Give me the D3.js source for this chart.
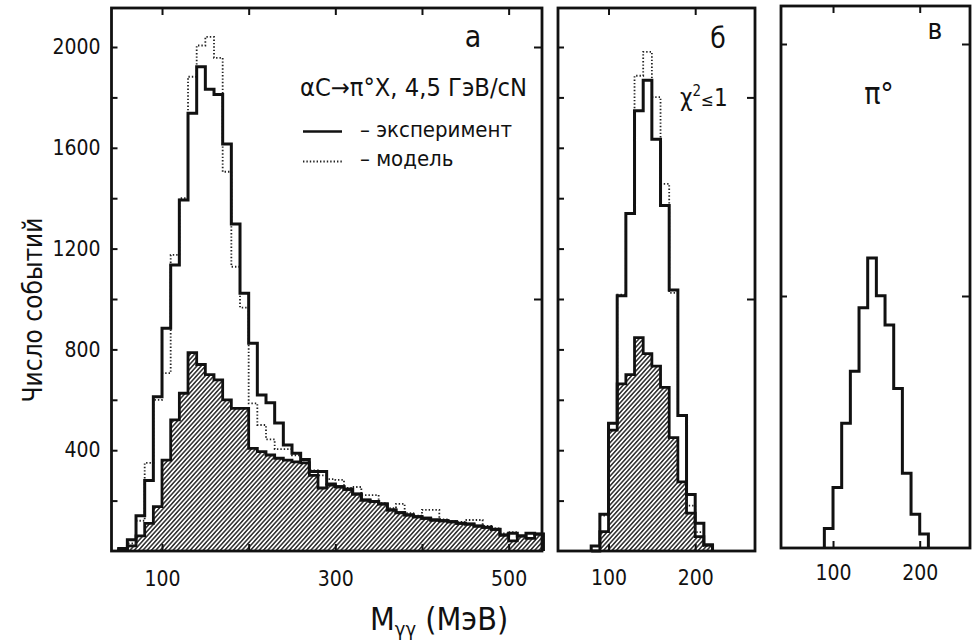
<!DOCTYPE html>
<html>
<head>
<meta charset="utf-8">
<script src="https://cdn.jsdelivr.net/npm/d3@7"></script>
<style>
  body { margin: 0; background: #fff; }
  svg { display: block; }
  text { font-family: "DejaVu Sans Condensed", "Liberation Sans Narrow", "DejaVu Sans", sans-serif; fill: #111; }
</style>
</head>
<body>
<svg id="chart" width="975" height="643"></svg>
<script>
// bins are 10 MeV wide, each array starts at its own left edge
const binWidth = 10;

// panel а: all events
const aStart = 50;
const aExperiment = [10, 45, 140, 280, 612, 884, 1135, 1393, 1737, 1922, 1832, 1812, 1615, 1298, 1023, 824,
  619, 588, 508, 421, 388, 363, 315, 315, 266, 255, 245, 226, 202, 196, 187, 163, 152, 143, 136, 130,
  123, 120, 116, 110, 107, 99, 94, 86, 63, 70, 60, 70, 67];
const aModel = [5, 30, 120, 350, 600, 706, 1175, 1400, 1882, 2006, 2040, 1957, 1505, 1128, 966, 586,
  500, 443, 404, 404, 380, 360, 320, 300, 285, 282, 250, 254, 222, 222, 190, 170, 187, 150, 140, 163,
  163, 125, 118, 115, 123, 123, 100, 90, 70, 75, 60, 72, 67];
const aHatched = [5, 20, 60, 110, 176, 361, 520, 626, 787, 740, 700, 679, 600, 566, 566, 407,
  394, 381, 368, 361, 354, 350, 300, 250, 262, 255, 245, 226, 202, 196, 187, 163, 152, 143, 136, 130,
  123, 120, 116, 110, 107, 99, 94, 86, 63, 40, 60, 50, 67];

// panel б: chi^2 <= 1
const bStart = 80;
const bExperiment = [20, 146, 507, 1013, 1339, 1747, 1868, 1634, 1371, 1036, 538, 224, 110, 24];
const bModel = [20, 140, 507, 1017, 1339, 1886, 1981, 1801, 1457, 1024, 538, 180, 75, 20];
const bHatched = [0, 77, 480, 663, 700, 847, 783, 734, 649, 450, 274, 150, 57, 24];

// panel в: pi0
const cStart = 90;
const cExperiment = [77, 240, 495, 701, 953, 1151, 1001, 885, 633, 297, 134, 56];

const yMinorTicks = [200, 400, 600, 800, 1000, 1200, 1400, 1600, 1800, 2000];
const yLabelTicks = [400, 800, 1200, 1600, 2000];
const aXTicks = [100, 200, 300, 400, 500];
const aXLabels = [100, 300, 500];
const bcXTicks = [100, 200];

const svg = d3.select("#chart");
const defs = svg.append("defs");

defs.append("pattern")
    .attr("id", "hatch")
    .attr("patternUnits", "userSpaceOnUse")
    .attr("width", 3.2)
    .attr("height", 3.2)
    .attr("patternTransform", "rotate(42)")
  .append("line")
    .attr("x1", 0.8).attr("y1", 0)
    .attr("x2", 0.8).attr("y2", 3.2)
    .attr("stroke", "#111")
    .attr("stroke-width", 1.35);

const panels = [
  {key: "a", left: 111.5, right: 542, top: 8, bottom: 551, xDomain: [41.7, 538.5],
   rightTicks: [1000, 2000], leftTicks: yMinorTicks, xTicks: aXTicks, xLabels: aXLabels, labelPad: 20},
  {key: "b", left: 558, right: 755, top: 8, bottom: 551, xDomain: [41.7, 269],
   rightTicks: [1000, 1800], leftTicks: yMinorTicks, xTicks: bcXTicks, xLabels: bcXTicks, labelPad: 19},
  {key: "c", left: 781, right: 970, top: 6, bottom: 548, xDomain: [40, 258],
   rightTicks: [1000, 2000], leftTicks: [1000, 2000], xTicks: bcXTicks, xLabels: bcXTicks, labelPad: 17}
];

panels.forEach(p => {
  p.x = d3.scaleLinear().domain(p.xDomain).range([p.left, p.right]);
  p.y = d3.scaleLinear().domain([0, (p.bottom - p.top) / 0.252]).range([p.bottom, p.top]);
});

function stepPath(p, start, values, closed) {
  const path = d3.path();
  path.moveTo(p.x(start), p.y(0));
  values.forEach((v, i) => {
    const e = start + i * binWidth;
    path.lineTo(p.x(e), p.y(v));
    path.lineTo(p.x(e + binWidth), p.y(v));
  });
  path.lineTo(p.x(start + values.length * binWidth), p.y(0));
  if (closed) path.closePath();
  return path.toString();
}

function drawHist(p, start, values, style) {
  const g = svg.append("g");
  if (style === "hatched") {
    g.append("path").attr("d", stepPath(p, start, values, true))
      .attr("fill", "url(#hatch)").attr("stroke", "none");
    g.append("path").attr("d", stepPath(p, start, values, false))
      .attr("fill", "none").attr("stroke", "#111").attr("stroke-width", 2.8)
      .attr("stroke-linejoin", "miter");
  } else if (style === "dotted") {
    g.append("path").attr("d", stepPath(p, start, values, false))
      .attr("fill", "none").attr("stroke", "#222").attr("stroke-width", 1.8)
      .attr("stroke-dasharray", "1.4,2");
  } else {
    g.append("path").attr("d", stepPath(p, start, values, false))
      .attr("fill", "none").attr("stroke", "#111").attr("stroke-width", 3)
      .attr("stroke-linejoin", "miter");
  }
}

const [pa, pb, pc] = panels;

drawHist(pa, aStart, aHatched, "hatched");
drawHist(pa, aStart, aModel, "dotted");
drawHist(pa, aStart, aExperiment, "solid");

drawHist(pb, bStart, bHatched, "hatched");
drawHist(pb, bStart, bModel, "dotted");
drawHist(pb, bStart, bExperiment, "solid");

drawHist(pc, cStart, cExperiment, "solid");

// frames and inward ticks
panels.forEach(p => {
  svg.append("rect")
    .attr("x", p.left).attr("y", p.top)
    .attr("width", p.right - p.left).attr("height", p.bottom - p.top)
    .attr("fill", "none").attr("stroke", "#111").attr("stroke-width", 2.8);

  const left = svg.append("g").attr("transform", `translate(${p.left},0)`)
    .call(d3.axisLeft(p.y).tickValues(p.leftTicks).tickSize(-6).tickPadding(11)
      .tickFormat(d => (p.key === "a" && yLabelTicks.includes(d)) ? d : ""));
  const right = svg.append("g").attr("transform", `translate(${p.right},0)`)
    .call(d3.axisRight(p.y).tickValues(p.rightTicks).tickSize(-8).tickFormat(""));
  const top = svg.append("g").attr("transform", `translate(0,${p.top})`)
    .call(d3.axisTop(p.x).tickValues(p.xTicks).tickSize(-7).tickFormat(""));
  const bottom = svg.append("g").attr("transform", `translate(0,${p.bottom})`)
    .call(d3.axisBottom(p.x).tickValues(p.xTicks).tickSize(-7).tickPadding(p.labelPad)
      .tickFormat(d => p.xLabels.includes(d) ? d : ""));

  [left, right, top, bottom].forEach(ax => {
    ax.select(".domain").remove();
    ax.selectAll(".tick line").attr("stroke", "#111").attr("stroke-width", 2);
    ax.selectAll(".tick text").attr("fill", "#111")
      .style("font-size", "21px").style("font-family", null);
  });
});

// panel letters and annotations
svg.append("text").attr("x", 473).attr("y", 47).attr("text-anchor", "middle")
  .style("font-size", "30px").text("а");
svg.append("text").attr("x", 718).attr("y", 48).attr("text-anchor", "middle")
  .style("font-size", "28px").text("б");
svg.append("text").attr("x", 935).attr("y", 39).attr("text-anchor", "middle")
  .style("font-size", "28px").text("в");

svg.append("text").attr("x", 300).attr("y", 96)
  .attr("textLength", 227).attr("lengthAdjust", "spacingAndGlyphs")
  .style("font-size", "24px").text("αC→π°X, 4,5 ГэВ/cN");

svg.append("line").attr("x1", 303).attr("x2", 342).attr("y1", 131.5).attr("y2", 131.5)
  .attr("stroke", "#111").attr("stroke-width", 2.6);
svg.append("line").attr("x1", 303).attr("x2", 342).attr("y1", 161.5).attr("y2", 161.5)
  .attr("stroke", "#222").attr("stroke-width", 1.8).attr("stroke-dasharray", "1.4,2");
svg.append("text").attr("x", 360).attr("y", 137)
  .style("font-size", "22px").text("– эксперимент");
svg.append("text").attr("x", 360).attr("y", 166)
  .style("font-size", "22px").text("– модель");

const chi = svg.append("text").attr("x", 680).attr("y", 106).style("font-size", "24px");
chi.append("tspan").text("χ");
chi.append("tspan").attr("dy", -10).style("font-size", "15px").text("2");
chi.append("tspan").attr("dy", 10).style("font-size", "17px").text("≤");
chi.append("tspan").style("font-size", "24px").text("1");

svg.append("text").attr("x", 879).attr("y", 104).attr("text-anchor", "middle")
  .style("font-size", "30px").text("π°");

// axis titles
svg.append("text")
  .attr("transform", "translate(42,310) rotate(-90)")
  .attr("text-anchor", "middle")
  .style("font-size", "26px").text("Число событий");

const xt = svg.append("text").attr("x", 370).attr("y", 630).style("font-size", "32px");
xt.append("tspan").text("M");
xt.append("tspan").attr("dy", 6).style("font-size", "20px").text("γγ");
xt.append("tspan").attr("dy", -6).style("font-size", "32px").text(" (МэВ)");
</script>
</body>
</html>
